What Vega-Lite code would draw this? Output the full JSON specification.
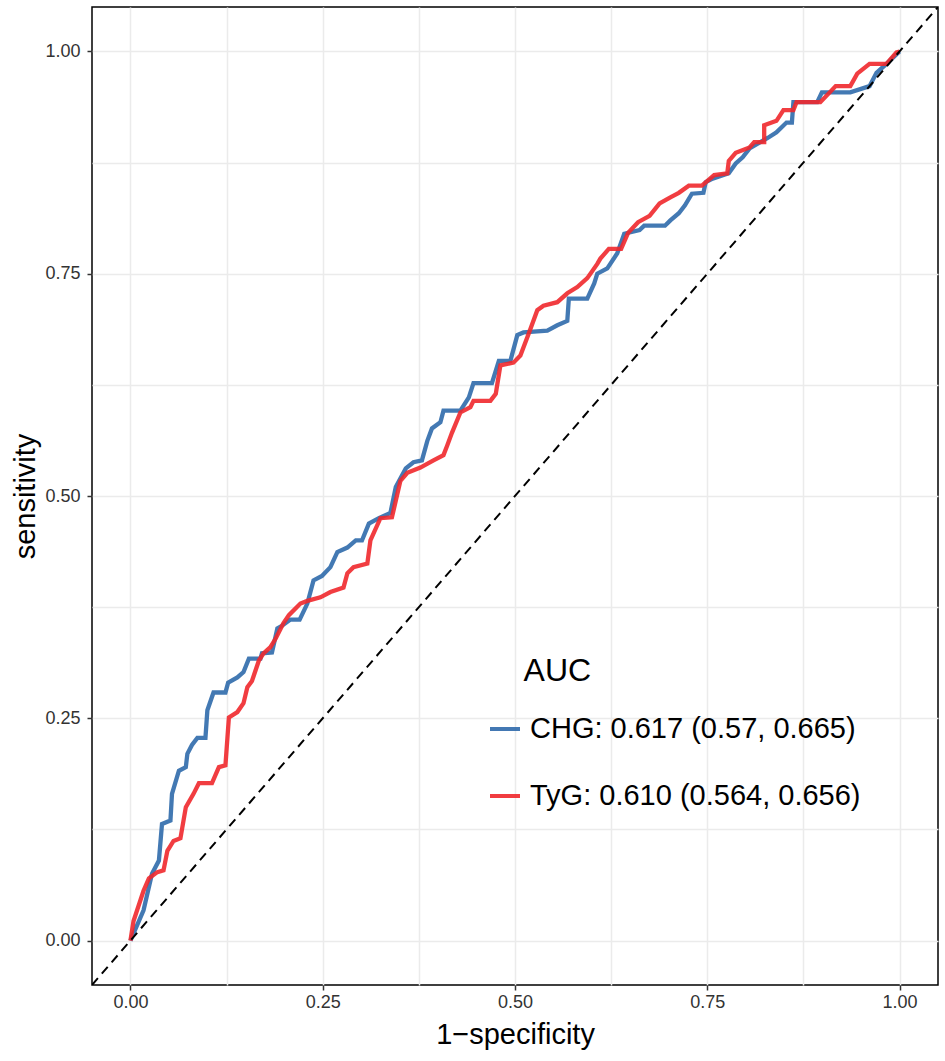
{
  "$schema": "https://vega.github.io/schema/vega-lite/v6.json",
  "width": 846,
  "height": 978,
  "autosize": {"type": "none"},
  "padding": {"left": 92, "top": 7, "right": 7, "bottom": 76},
  "background": "white",
  "config": {
    "font": "Liberation Sans",
    "view": {"stroke": "#000000", "strokeWidth": 1.5},
    "legend": {
      "orient": "none",
      "legendX": 396,
      "legendY": 649,
      "padding": 0,
      "symbolType": "stroke",
      "symbolSize": 900,
      "symbolStrokeWidth": 4,
      "labelFontSize": 29,
      "labelColor": "#000000",
      "labelOffset": 8,
      "labelLimit": 600,
      "rowPadding": 35,
      "titleFontSize": 32,
      "titleFontWeight": "normal",
      "titleColor": "#000000",
      "titlePadding": 24
    }
  },
  "datasets": {
    "diag": [
      {"x": -0.05, "y": -0.05},
      {"x": 1.05, "y": 1.05}
    ],
    "roc": [
      {"model": "CHG", "i": 0, "x": 0, "y": 0},
      {"model": "CHG", "i": 1, "x": 0.017, "y": 0.034},
      {"model": "CHG", "i": 2, "x": 0.028, "y": 0.075},
      {"model": "CHG", "i": 3, "x": 0.037, "y": 0.09},
      {"model": "CHG", "i": 4, "x": 0.041, "y": 0.131},
      {"model": "CHG", "i": 5, "x": 0.052, "y": 0.135},
      {"model": "CHG", "i": 6, "x": 0.054, "y": 0.165},
      {"model": "CHG", "i": 7, "x": 0.063, "y": 0.191},
      {"model": "CHG", "i": 8, "x": 0.072, "y": 0.195},
      {"model": "CHG", "i": 9, "x": 0.074, "y": 0.21},
      {"model": "CHG", "i": 10, "x": 0.08, "y": 0.22},
      {"model": "CHG", "i": 11, "x": 0.087, "y": 0.228},
      {"model": "CHG", "i": 12, "x": 0.0975, "y": 0.228},
      {"model": "CHG", "i": 13, "x": 0.1, "y": 0.259},
      {"model": "CHG", "i": 14, "x": 0.108, "y": 0.279},
      {"model": "CHG", "i": 15, "x": 0.1235, "y": 0.279},
      {"model": "CHG", "i": 16, "x": 0.127, "y": 0.29},
      {"model": "CHG", "i": 17, "x": 0.139, "y": 0.296},
      {"model": "CHG", "i": 18, "x": 0.147, "y": 0.302},
      {"model": "CHG", "i": 19, "x": 0.154, "y": 0.317},
      {"model": "CHG", "i": 20, "x": 0.169, "y": 0.317},
      {"model": "CHG", "i": 21, "x": 0.171, "y": 0.323},
      {"model": "CHG", "i": 22, "x": 0.184, "y": 0.324},
      {"model": "CHG", "i": 23, "x": 0.191, "y": 0.351},
      {"model": "CHG", "i": 24, "x": 0.197, "y": 0.354},
      {"model": "CHG", "i": 25, "x": 0.208, "y": 0.361},
      {"model": "CHG", "i": 26, "x": 0.22, "y": 0.361},
      {"model": "CHG", "i": 27, "x": 0.23, "y": 0.379},
      {"model": "CHG", "i": 28, "x": 0.238, "y": 0.405},
      {"model": "CHG", "i": 29, "x": 0.249, "y": 0.41},
      {"model": "CHG", "i": 30, "x": 0.26, "y": 0.42},
      {"model": "CHG", "i": 31, "x": 0.269, "y": 0.437},
      {"model": "CHG", "i": 32, "x": 0.282, "y": 0.442},
      {"model": "CHG", "i": 33, "x": 0.293, "y": 0.45},
      {"model": "CHG", "i": 34, "x": 0.301, "y": 0.45},
      {"model": "CHG", "i": 35, "x": 0.31, "y": 0.469},
      {"model": "CHG", "i": 36, "x": 0.323, "y": 0.475},
      {"model": "CHG", "i": 37, "x": 0.338, "y": 0.481},
      {"model": "CHG", "i": 38, "x": 0.345, "y": 0.51},
      {"model": "CHG", "i": 39, "x": 0.358, "y": 0.531},
      {"model": "CHG", "i": 40, "x": 0.368, "y": 0.538},
      {"model": "CHG", "i": 41, "x": 0.379, "y": 0.54},
      {"model": "CHG", "i": 42, "x": 0.386, "y": 0.562},
      {"model": "CHG", "i": 43, "x": 0.392, "y": 0.576},
      {"model": "CHG", "i": 44, "x": 0.403, "y": 0.583},
      {"model": "CHG", "i": 45, "x": 0.407, "y": 0.596},
      {"model": "CHG", "i": 46, "x": 0.429, "y": 0.596},
      {"model": "CHG", "i": 47, "x": 0.44, "y": 0.611},
      {"model": "CHG", "i": 48, "x": 0.446, "y": 0.627},
      {"model": "CHG", "i": 49, "x": 0.47, "y": 0.627},
      {"model": "CHG", "i": 50, "x": 0.479, "y": 0.652},
      {"model": "CHG", "i": 51, "x": 0.494, "y": 0.652},
      {"model": "CHG", "i": 52, "x": 0.503, "y": 0.681},
      {"model": "CHG", "i": 53, "x": 0.511, "y": 0.684},
      {"model": "CHG", "i": 54, "x": 0.542, "y": 0.686},
      {"model": "CHG", "i": 55, "x": 0.555, "y": 0.692},
      {"model": "CHG", "i": 56, "x": 0.568, "y": 0.697},
      {"model": "CHG", "i": 57, "x": 0.57, "y": 0.722},
      {"model": "CHG", "i": 58, "x": 0.594, "y": 0.722},
      {"model": "CHG", "i": 59, "x": 0.603, "y": 0.739},
      {"model": "CHG", "i": 60, "x": 0.607, "y": 0.75},
      {"model": "CHG", "i": 61, "x": 0.62, "y": 0.756},
      {"model": "CHG", "i": 62, "x": 0.633, "y": 0.773},
      {"model": "CHG", "i": 63, "x": 0.642, "y": 0.795},
      {"model": "CHG", "i": 64, "x": 0.662, "y": 0.799},
      {"model": "CHG", "i": 65, "x": 0.668, "y": 0.804},
      {"model": "CHG", "i": 66, "x": 0.695, "y": 0.804},
      {"model": "CHG", "i": 67, "x": 0.702, "y": 0.81},
      {"model": "CHG", "i": 68, "x": 0.713, "y": 0.818},
      {"model": "CHG", "i": 69, "x": 0.721, "y": 0.827},
      {"model": "CHG", "i": 70, "x": 0.73, "y": 0.84},
      {"model": "CHG", "i": 71, "x": 0.745, "y": 0.841},
      {"model": "CHG", "i": 72, "x": 0.748, "y": 0.853},
      {"model": "CHG", "i": 73, "x": 0.757, "y": 0.857},
      {"model": "CHG", "i": 74, "x": 0.778, "y": 0.863},
      {"model": "CHG", "i": 75, "x": 0.787, "y": 0.874},
      {"model": "CHG", "i": 76, "x": 0.796, "y": 0.881},
      {"model": "CHG", "i": 77, "x": 0.805, "y": 0.891},
      {"model": "CHG", "i": 78, "x": 0.815, "y": 0.896},
      {"model": "CHG", "i": 79, "x": 0.829, "y": 0.903},
      {"model": "CHG", "i": 80, "x": 0.84, "y": 0.909},
      {"model": "CHG", "i": 81, "x": 0.853, "y": 0.92},
      {"model": "CHG", "i": 82, "x": 0.86, "y": 0.92},
      {"model": "CHG", "i": 83, "x": 0.862, "y": 0.943},
      {"model": "CHG", "i": 84, "x": 0.893, "y": 0.943},
      {"model": "CHG", "i": 85, "x": 0.899, "y": 0.954},
      {"model": "CHG", "i": 86, "x": 0.936, "y": 0.954},
      {"model": "CHG", "i": 87, "x": 0.961, "y": 0.961},
      {"model": "CHG", "i": 88, "x": 0.97, "y": 0.976},
      {"model": "CHG", "i": 89, "x": 0.983, "y": 0.986},
      {"model": "CHG", "i": 90, "x": 1, "y": 1},
      {"model": "TyG", "i": 0, "x": 0, "y": 0},
      {"model": "TyG", "i": 1, "x": 0.004, "y": 0.022},
      {"model": "TyG", "i": 2, "x": 0.017, "y": 0.056},
      {"model": "TyG", "i": 3, "x": 0.024, "y": 0.07},
      {"model": "TyG", "i": 4, "x": 0.035, "y": 0.077},
      {"model": "TyG", "i": 5, "x": 0.043, "y": 0.079},
      {"model": "TyG", "i": 6, "x": 0.048, "y": 0.101},
      {"model": "TyG", "i": 7, "x": 0.056, "y": 0.112},
      {"model": "TyG", "i": 8, "x": 0.065, "y": 0.115},
      {"model": "TyG", "i": 9, "x": 0.072, "y": 0.15},
      {"model": "TyG", "i": 10, "x": 0.082, "y": 0.165},
      {"model": "TyG", "i": 11, "x": 0.089, "y": 0.177},
      {"model": "TyG", "i": 12, "x": 0.106, "y": 0.177},
      {"model": "TyG", "i": 13, "x": 0.115, "y": 0.195},
      {"model": "TyG", "i": 14, "x": 0.1235, "y": 0.197},
      {"model": "TyG", "i": 15, "x": 0.128, "y": 0.251},
      {"model": "TyG", "i": 16, "x": 0.139, "y": 0.257},
      {"model": "TyG", "i": 17, "x": 0.147, "y": 0.267},
      {"model": "TyG", "i": 18, "x": 0.152, "y": 0.285},
      {"model": "TyG", "i": 19, "x": 0.158, "y": 0.292},
      {"model": "TyG", "i": 20, "x": 0.167, "y": 0.315},
      {"model": "TyG", "i": 21, "x": 0.173, "y": 0.323},
      {"model": "TyG", "i": 22, "x": 0.182, "y": 0.33},
      {"model": "TyG", "i": 23, "x": 0.189, "y": 0.34},
      {"model": "TyG", "i": 24, "x": 0.199, "y": 0.357},
      {"model": "TyG", "i": 25, "x": 0.206, "y": 0.366},
      {"model": "TyG", "i": 26, "x": 0.221, "y": 0.379},
      {"model": "TyG", "i": 27, "x": 0.23, "y": 0.382},
      {"model": "TyG", "i": 28, "x": 0.247, "y": 0.386},
      {"model": "TyG", "i": 29, "x": 0.26, "y": 0.392},
      {"model": "TyG", "i": 30, "x": 0.277, "y": 0.397},
      {"model": "TyG", "i": 31, "x": 0.282, "y": 0.413},
      {"model": "TyG", "i": 32, "x": 0.29, "y": 0.42},
      {"model": "TyG", "i": 33, "x": 0.308, "y": 0.424},
      {"model": "TyG", "i": 34, "x": 0.312, "y": 0.45},
      {"model": "TyG", "i": 35, "x": 0.325, "y": 0.475},
      {"model": "TyG", "i": 36, "x": 0.34, "y": 0.476},
      {"model": "TyG", "i": 37, "x": 0.351, "y": 0.517},
      {"model": "TyG", "i": 38, "x": 0.36, "y": 0.526},
      {"model": "TyG", "i": 39, "x": 0.377, "y": 0.532},
      {"model": "TyG", "i": 40, "x": 0.394, "y": 0.54},
      {"model": "TyG", "i": 41, "x": 0.407, "y": 0.546},
      {"model": "TyG", "i": 42, "x": 0.412, "y": 0.557},
      {"model": "TyG", "i": 43, "x": 0.418, "y": 0.571},
      {"model": "TyG", "i": 44, "x": 0.429, "y": 0.594},
      {"model": "TyG", "i": 45, "x": 0.442, "y": 0.6},
      {"model": "TyG", "i": 46, "x": 0.446, "y": 0.607},
      {"model": "TyG", "i": 47, "x": 0.468, "y": 0.607},
      {"model": "TyG", "i": 48, "x": 0.475, "y": 0.615},
      {"model": "TyG", "i": 49, "x": 0.481, "y": 0.647},
      {"model": "TyG", "i": 50, "x": 0.498, "y": 0.65},
      {"model": "TyG", "i": 51, "x": 0.507, "y": 0.658},
      {"model": "TyG", "i": 52, "x": 0.518, "y": 0.683},
      {"model": "TyG", "i": 53, "x": 0.529, "y": 0.709},
      {"model": "TyG", "i": 54, "x": 0.537, "y": 0.714},
      {"model": "TyG", "i": 55, "x": 0.555, "y": 0.718},
      {"model": "TyG", "i": 56, "x": 0.568, "y": 0.728},
      {"model": "TyG", "i": 57, "x": 0.581, "y": 0.735},
      {"model": "TyG", "i": 58, "x": 0.594, "y": 0.745},
      {"model": "TyG", "i": 59, "x": 0.607, "y": 0.761},
      {"model": "TyG", "i": 60, "x": 0.611, "y": 0.767},
      {"model": "TyG", "i": 61, "x": 0.622, "y": 0.778},
      {"model": "TyG", "i": 62, "x": 0.638, "y": 0.778},
      {"model": "TyG", "i": 63, "x": 0.647, "y": 0.796},
      {"model": "TyG", "i": 64, "x": 0.66, "y": 0.808},
      {"model": "TyG", "i": 65, "x": 0.675, "y": 0.815},
      {"model": "TyG", "i": 66, "x": 0.688, "y": 0.829},
      {"model": "TyG", "i": 67, "x": 0.702, "y": 0.836},
      {"model": "TyG", "i": 68, "x": 0.713, "y": 0.841},
      {"model": "TyG", "i": 69, "x": 0.726, "y": 0.849},
      {"model": "TyG", "i": 70, "x": 0.743, "y": 0.849},
      {"model": "TyG", "i": 71, "x": 0.759, "y": 0.861},
      {"model": "TyG", "i": 72, "x": 0.776, "y": 0.863},
      {"model": "TyG", "i": 73, "x": 0.778, "y": 0.877},
      {"model": "TyG", "i": 74, "x": 0.787, "y": 0.886},
      {"model": "TyG", "i": 75, "x": 0.805, "y": 0.892},
      {"model": "TyG", "i": 76, "x": 0.811, "y": 0.898},
      {"model": "TyG", "i": 77, "x": 0.824, "y": 0.898},
      {"model": "TyG", "i": 78, "x": 0.824, "y": 0.917},
      {"model": "TyG", "i": 79, "x": 0.84, "y": 0.922},
      {"model": "TyG", "i": 80, "x": 0.849, "y": 0.934},
      {"model": "TyG", "i": 81, "x": 0.862, "y": 0.934},
      {"model": "TyG", "i": 82, "x": 0.866, "y": 0.943},
      {"model": "TyG", "i": 83, "x": 0.897, "y": 0.943},
      {"model": "TyG", "i": 84, "x": 0.917, "y": 0.961},
      {"model": "TyG", "i": 85, "x": 0.936, "y": 0.961},
      {"model": "TyG", "i": 86, "x": 0.945, "y": 0.975},
      {"model": "TyG", "i": 87, "x": 0.961, "y": 0.986},
      {"model": "TyG", "i": 88, "x": 0.983, "y": 0.986},
      {"model": "TyG", "i": 89, "x": 0.996, "y": 0.999},
      {"model": "TyG", "i": 90, "x": 1, "y": 1}
    ]
  },
  "encoding": {
    "x": {
      "field": "x",
      "type": "quantitative",
      "scale": {"domain": [-0.05, 1.05], "nice": false, "zero": false},
      "axis": {
        "title": "1−specificity",
        "values": [0, 0.125, 0.25, 0.375, 0.5, 0.625, 0.75, 0.875, 1],
        "labelExpr": "datum.value * 4 == round(datum.value * 4) ? format(datum.value, '.2f') : ''",
        "domain": false,
        "grid": true,
        "gridColor": "#ebebeb",
        "gridWidth": 1.5,
        "tickColor": "#333333",
        "tickWidth": 1.5,
        "tickSize": 5,
        "tickOpacity": {"condition": {"test": "datum.value * 4 == round(datum.value * 4)", "value": 1}, "value": 0},
        "labelColor": "#333333",
        "labelFontSize": 18,
        "labelPadding": 3,
        "titleFontSize": 29,
        "titleFontWeight": "normal",
        "titleColor": "#000000",
        "titlePadding": 9
      }
    },
    "y": {
      "field": "y",
      "type": "quantitative",
      "scale": {"domain": [-0.05, 1.05], "nice": false, "zero": false},
      "axis": {
        "title": "sensitivity",
        "values": [0, 0.125, 0.25, 0.375, 0.5, 0.625, 0.75, 0.875, 1],
        "labelExpr": "datum.value * 4 == round(datum.value * 4) ? format(datum.value, '.2f') : ''",
        "domain": false,
        "grid": true,
        "gridColor": "#ebebeb",
        "gridWidth": 1.5,
        "tickColor": "#333333",
        "tickWidth": 1.5,
        "tickSize": 5,
        "tickOpacity": {"condition": {"test": "datum.value * 4 == round(datum.value * 4)", "value": 1}, "value": 0},
        "labelColor": "#333333",
        "labelFontSize": 18,
        "labelPadding": 7,
        "titleFontSize": 29,
        "titleFontWeight": "normal",
        "titleColor": "#000000",
        "titlePadding": 4
      }
    }
  },
  "layer": [
    {
      "data": {"name": "roc"},
      "mark": {"type": "line", "strokeWidth": 4.3, "opacity": 0.9, "clip": true},
      "encoding": {
        "order": {"field": "i", "type": "quantitative"},
        "color": {
          "field": "model",
          "type": "nominal",
          "scale": {"domain": ["CHG", "TyG"], "range": ["#2f6aab", "#f0282c"]},
          "legend": {
            "title": "\u200b\u00a0\u00a0\u00a0\u00a0AUC",
            "labelExpr": "datum.label == 'CHG' ? 'CHG: 0.617 (0.57, 0.665)' : 'TyG: 0.610 (0.564, 0.656)'"
          }
        }
      }
    },
    {
      "data": {"name": "diag"},
      "mark": {"type": "line", "color": "#000000", "strokeWidth": 2, "strokeDash": [9, 6], "clip": true},
      "encoding": {}
    }
  ]
}
